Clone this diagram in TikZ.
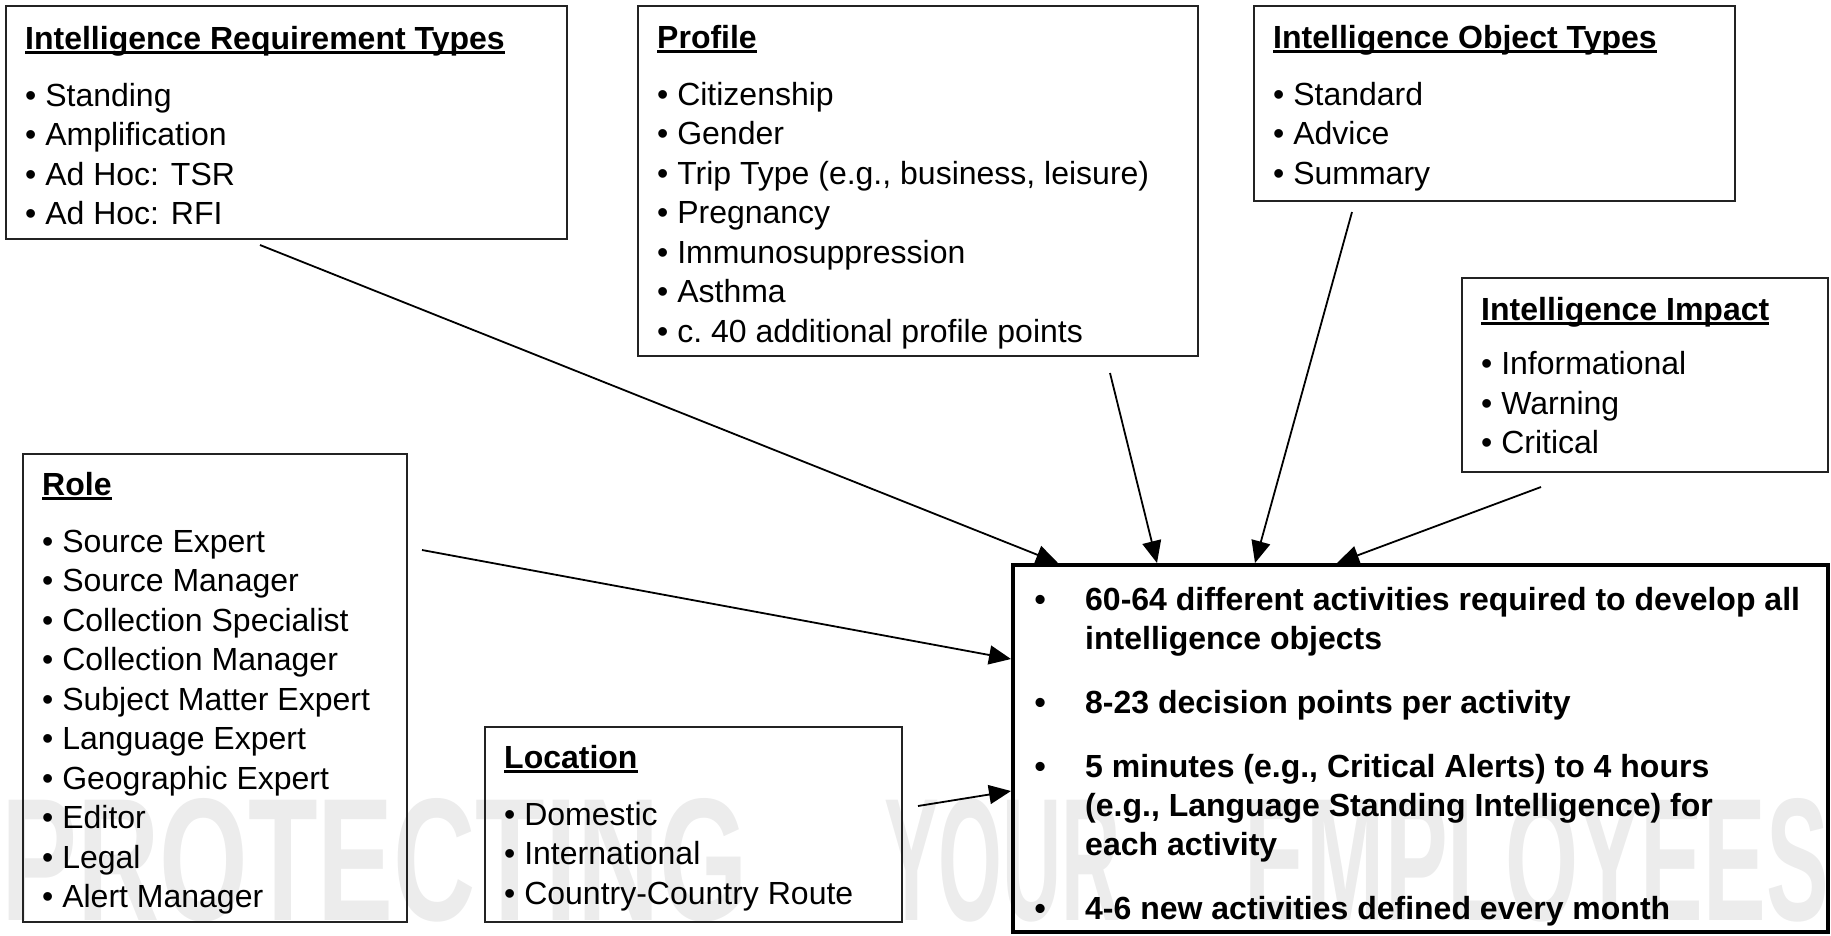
\documentclass[tikz,border=0pt]{standalone}
\usepackage{graphicx}
\usepackage{fontspec}
\setmainfont{Liberation Sans}
\usetikzlibrary{arrows.meta,positioning,calc}
\definecolor{boxgray}{RGB}{35,35,35}
\definecolor{wmgray}{RGB}{236,236,236}
% underlined bold heading, line sits just under the baseline
\newcommand{\hd}[1]{\setbox0\hbox{\bfseries #1}\rlap{\rule[-4.5pt]{\wd0}{3pt}}\box0}
\newcommand{\bul}{\textbullet\ }
\newcommand{\mb}{\makebox[50.6pt][l]{\textbullet}}
\newcommand{\mi}{\hspace*{50.6pt}}

\begin{document}
\begin{tikzpicture}[x=1pt, y=-1pt,
    panel/.style={draw=boxgray, line width=2pt, inner sep=0pt, outer sep=0pt, anchor=north west},
    bigbox/.style={draw=black, line width=4.5pt, inner sep=0pt, outer sep=0pt, anchor=north west},
    txt/.style={anchor=north west, align=left, inner sep=0pt, font=\fontsize{32}{39.5}\selectfont},
    link/.style={draw=black, line width=1.8pt, -{Triangle[length=22pt,width=19pt]}},
    wm/.style={anchor=south west, inner sep=0pt, text=wmgray, font=\bfseries},
]
    \useasboundingbox (0,0) rectangle (1831,935);
    % Watermark
    \node[wm] (wm1) at (1,922) {\resizebox{746pt}{122pt}{PROTECTING}};
    \node[wm] (wm2) at (884,922) {\resizebox{237pt}{122pt}{YOUR}};
    \node[wm] (wm3) at (1244,922) {\resizebox{584pt}{122pt}{EMPLOYEES}};
    % Input boxes
    \node[panel, minimum width=561pt, minimum height=233pt] (irt) at (6,6) {};
    \node[panel, minimum width=560pt, minimum height=350pt] (prof) at (638,6) {};
    \node[panel, minimum width=481pt, minimum height=195pt] (iot) at (1254,6) {};
    \node[panel, minimum width=366pt, minimum height=194pt] (imp) at (1462,278) {};
    \node[panel, minimum width=384pt, minimum height=468pt] (role) at (23,454) {};
    \node[panel, minimum width=417pt, minimum height=195pt] (loc) at (485,727) {};
    % Result box
    \node[bigbox, minimum width=815pt, minimum height=367pt] (main) at (1013,565) {};
    % Box texts
    \node[txt] (irtlist) at ([shift={(19pt,-20pt)}]irt.north west) {\hd{Intelligence Requirement Types}\\[17.5pt]
        \bul Standing\\ \bul Amplification\\ \bul Ad Hoc: TSR\\ \bul Ad Hoc: RFI};
    \node[txt] (proflist) at ([shift={(19pt,-19pt)}]prof.north west) {\hd{Profile}\\[17.5pt]
        \bul Citizenship\\ \bul Gender\\ \bul Trip Type (e.g., business, leisure)\\ \bul Pregnancy\\
        \bul Immunosuppression\\ \bul Asthma\\ \bul c.\ 40 additional profile points};
    \node[txt] (iotlist) at ([shift={(19pt,-19pt)}]iot.north west) {\hd{Intelligence Object Types}\\[17.5pt]
        \bul Standard\\ \bul Advice\\ \bul Summary};
    \node[txt] (implist) at ([shift={(19pt,-19pt)}]imp.north west) {\hd{Intelligence Impact}\\[15pt]
        \bul Informational\\ \bul Warning\\ \bul Critical};
    \node[txt] (rolelist) at ([shift={(19pt,-18pt)}]role.north west) {\hd{Role}\\[17.5pt]
        \bul Source Expert\\ \bul Source Manager\\ \bul Collection Specialist\\ \bul Collection Manager\\
        \bul Subject Matter Expert\\ \bul Language Expert\\ \bul Geographic Expert\\ \bul Editor\\
        \bul Legal\\ \bul Alert Manager};
    \node[txt] (loclist) at ([shift={(19pt,-18pt)}]loc.north west) {\hd{Location}\\[17.5pt]
        \bul Domestic\\ \bul International\\ \bul Country-Country Route};
    \node[txt, font=\fontsize{32}{39}\selectfont\bfseries] (mainlist) at ([shift={(21.4pt,-21.6pt)}]main.north west) {%
        \mb 60-64 different activities required to develop all\\
        \mi intelligence objects\\[25pt]
        \mb 8-23 decision points per activity\\[25pt]
        \mb 5 minutes (e.g., Critical Alerts) to 4 hours\\
        \mi (e.g., Language Standing Intelligence) for\\
        \mi each activity\\[25pt]
        \mb 4-6 new activities defined every month};
    % Arrows into the result box
    \draw[link] ([shift={(254pt,-6pt)}]irt.south west) -- ([shift={(45pt,2pt)}]main.north west);
    \draw[link] ([shift={(472pt,-17pt)}]prof.south west) -- ([shift={(144pt,2pt)}]main.north west);
    \draw[link] ([shift={(98pt,-11pt)}]iot.south west) -- ([shift={(242pt,2pt)}]main.north west);
    \draw[link] ([shift={(79pt,-15pt)}]imp.south west) -- ([shift={(324pt,2pt)}]main.north west);
    \draw[link] ([shift={(15pt,-96pt)}]role.north east) -- ([shift={(-2pt,-94pt)}]main.north west);
    \draw[link] ([shift={(16pt,-79pt)}]loc.north east) -- ([shift={(-2pt,-226pt)}]main.north west);
\end{tikzpicture}
\end{document}
